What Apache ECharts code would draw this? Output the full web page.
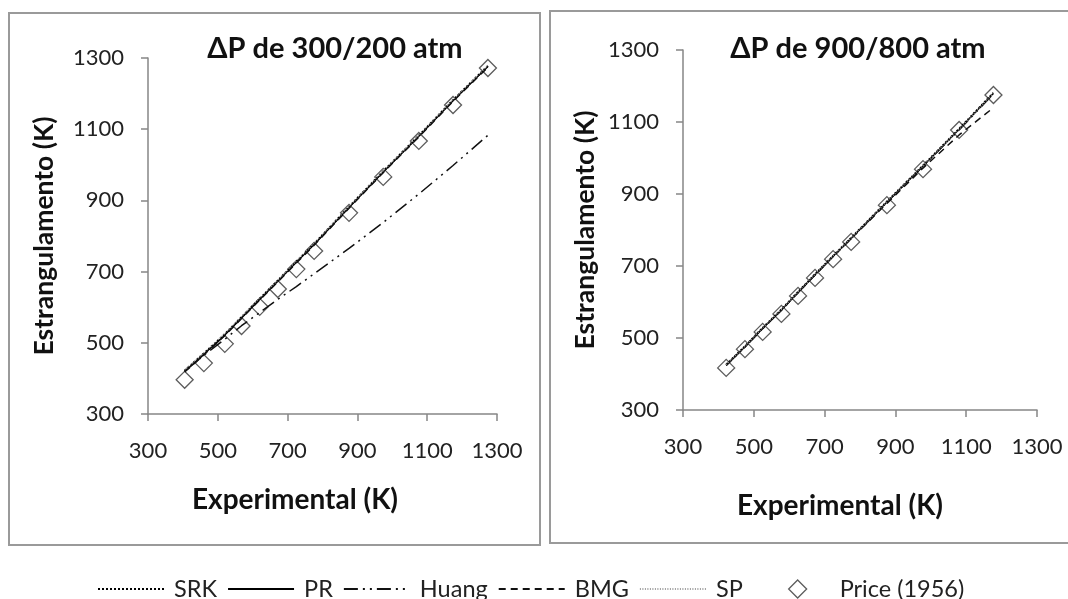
<!DOCTYPE html>
<html>
<head>
<meta charset="utf-8">
<script src="https://cdn.jsdelivr.net/npm/echarts@6/dist/echarts.min.js"></script>
<style>
  html, body { margin: 0; padding: 0; background: #fff; }
  #chart { width: 1068px; height: 599px; }
</style>
</head>
<body>
<div id="chart"></div>
<script>
// ---- data ----
// left panel: dP 300/200 atm
const expLeft   = [405, 460, 520, 568, 620, 672, 725, 776, 876, 974, 1076, 1174, 1274];
const srkLeft   = [422, 470, 524, 572, 624, 675, 728, 778, 882, 982, 1082, 1182, 1278];
const prLeft    = [420, 468, 522, 570, 622, 673, 726, 776, 880, 980, 1080, 1180, 1276];
const huangLeft = [420, 465, 510, 548, 585, 622, 658, 694, 765, 838, 918, 998, 1083];
const bmgLeft   = [418, 466, 520, 568, 620, 671, 724, 774, 878, 978, 1078, 1178, 1274];
const spLeft    = [424, 472, 526, 574, 626, 676, 730, 780, 883, 983, 1083, 1183, 1279];
const priceLeft = [396, 443, 497, 547, 601, 651, 707, 758, 865, 966, 1067, 1168, 1272];

// right panel: dP 900/800 atm
const expRight   = [422, 475, 525, 578, 625, 673, 724, 775, 876, 978, 1080, 1177];
const srkRight   = [426, 477, 528, 579, 628, 677, 728, 778, 879, 979, 1081, 1181];
const prRight    = [425, 476, 527, 578, 627, 676, 727, 777, 878, 978, 1080, 1180];
const huangRight = [424, 475, 526, 577, 626, 675, 726, 776, 877, 977, 1078, 1178];
const bmgRight   = [424, 475, 526, 577, 626, 675, 726, 776, 874, 972, 1064, 1140];
const spRight    = [426, 477, 528, 579, 628, 677, 728, 778, 879, 979, 1080, 1180];
const priceRight = [417, 469, 517, 567, 617, 667, 719, 767, 869, 969, 1078, 1175];

const axisTicks = [300, 500, 700, 900, 1100, 1300];
const titles = ['ΔP de 300/200 atm', 'ΔP de 900/800 atm'];

const FONT = 'Lato, "Noto Sans", sans-serif';

function pairs(xs, ys) {
    return xs.map((x, i) => [x, ys[i]]);
}

const lineDefs = [
    { name: 'SRK',   left: srkLeft,   right: srkRight,   style: { color: '#000', width: 2, type: [2, 2] } },
    { name: 'PR',    left: prLeft,    right: prRight,    style: { color: '#000', width: 1.5, type: 'solid' } },
    { name: 'Huang', left: huangLeft, right: huangRight, style: { color: '#111', width: 1.5, type: [14, 5, 2, 5, 2, 5] } },
    { name: 'BMG',   left: bmgLeft,   right: bmgRight,   style: { color: '#111', width: 1.5, type: [7, 5] } },
    { name: 'SP',    left: spLeft,    right: spRight,    style: { color: '#9a9a9a', width: 1.2, type: [1, 1.5] } },
];

const priceStyle = { color: 'rgba(255,255,255,0)', borderColor: '#333', borderWidth: 1.3 };

const series = [];
[0, 1].forEach(idx => {
    const xs = idx === 0 ? expLeft : expRight;
    lineDefs.forEach(d => {
        series.push({
            name: d.name,
            type: 'line',
            xAxisIndex: idx,
            yAxisIndex: idx,
            data: pairs(xs, idx === 0 ? d.left : d.right),
            symbol: 'none',
            lineStyle: d.style,
            itemStyle: { color: d.style.color },
            z: 3
        });
    });
    series.push({
        name: 'Price (1956)',
        type: 'scatter',
        xAxisIndex: idx,
        yAxisIndex: idx,
        data: pairs(xs, idx === 0 ? priceLeft : priceRight),
        symbol: 'diamond',
        symbolSize: 17,
        itemStyle: priceStyle,
        z: 2
    });
});

function makeAxis(idx, isX, nameGap, padding) {
    return {
        type: 'value',
        gridIndex: idx,
        min: axisTicks[0],
        max: axisTicks[axisTicks.length - 1],
        interval: 200,
        name: isX ? 'Experimental (K)' : 'Estrangulamento (K)',
        nameLocation: 'middle',
        nameGap: nameGap,
        nameTextStyle: { fontFamily: FONT, fontWeight: 'bold', fontSize: isX ? 28 : 26.5, color: '#111', padding: padding },
        axisLine: { show: true, lineStyle: { color: '#868686', width: 1.5 } },
        axisTick: { show: true, length: 7, lineStyle: { color: '#868686', width: 1.5 } },
        splitLine: { show: false },
        axisLabel: {
            fontFamily: FONT, fontSize: 22, color: '#222', margin: isX ? 26 : 24,
            formatter: v => String(v)
        }
    };
}

const lineLegend = name => ({ name: name, itemStyle: { opacity: 0 } });
const legendText = { fontFamily: FONT, fontSize: 23.5, color: '#222', padding: [0, 0, 0, 5] };

const chart = echarts.init(document.getElementById('chart'));
chart.setOption({
    backgroundColor: '#fff',
    animation: false,
    textStyle: { fontFamily: FONT },
    graphic: [
        { type: 'rect', shape: { x: 9, y: 13, width: 531, height: 532 }, style: { fill: '#fff', stroke: '#9a9a9a', lineWidth: 2 }, z: -10 },
        { type: 'rect', shape: { x: 550, y: 11, width: 530, height: 532 }, style: { fill: '#fff', stroke: '#9a9a9a', lineWidth: 2 }, z: -10 }
    ],
    title: [
        { text: titles[0], left: 330, top: 29, textAlign: 'center',
          textStyle: { fontFamily: FONT, fontWeight: 'bold', fontSize: 29, color: '#111' } },
        { text: titles[1], left: 853, top: 29, textAlign: 'center',
          textStyle: { fontFamily: FONT, fontWeight: 'bold', fontSize: 29, color: '#111' } }
    ],
    legend: [
        {
            left: 92,
            top: 572,
            itemWidth: 66,
            itemHeight: 18,
            itemGap: 10,
            textStyle: legendText,
            data: [lineLegend('SRK'), lineLegend('PR'), lineLegend('Huang'), lineLegend('BMG'), lineLegend('SP')]
        },
        {
            left: 783,
            top: 572,
            itemWidth: 18,
            itemHeight: 18,
            textStyle: Object.assign({}, legendText, { padding: [0, 0, 0, 28] }),
            data: [{ name: 'Price (1956)', icon: 'diamond', itemStyle: priceStyle }]
        }
    ],
    grid: [
        { left: 148, top: 58, width: 349, height: 356 },
        { left: 683, top: 50, width: 354, height: 360 }
    ],
    xAxis: [makeAxis(0, true, 72, [0, 55, 0, 0]), makeAxis(1, true, 82, [0, 40, 0, 0])],
    yAxis: [makeAxis(0, false, 90, 0), makeAxis(1, false, 84, 0)],
    series: series
});
</script>
</body>
</html>
